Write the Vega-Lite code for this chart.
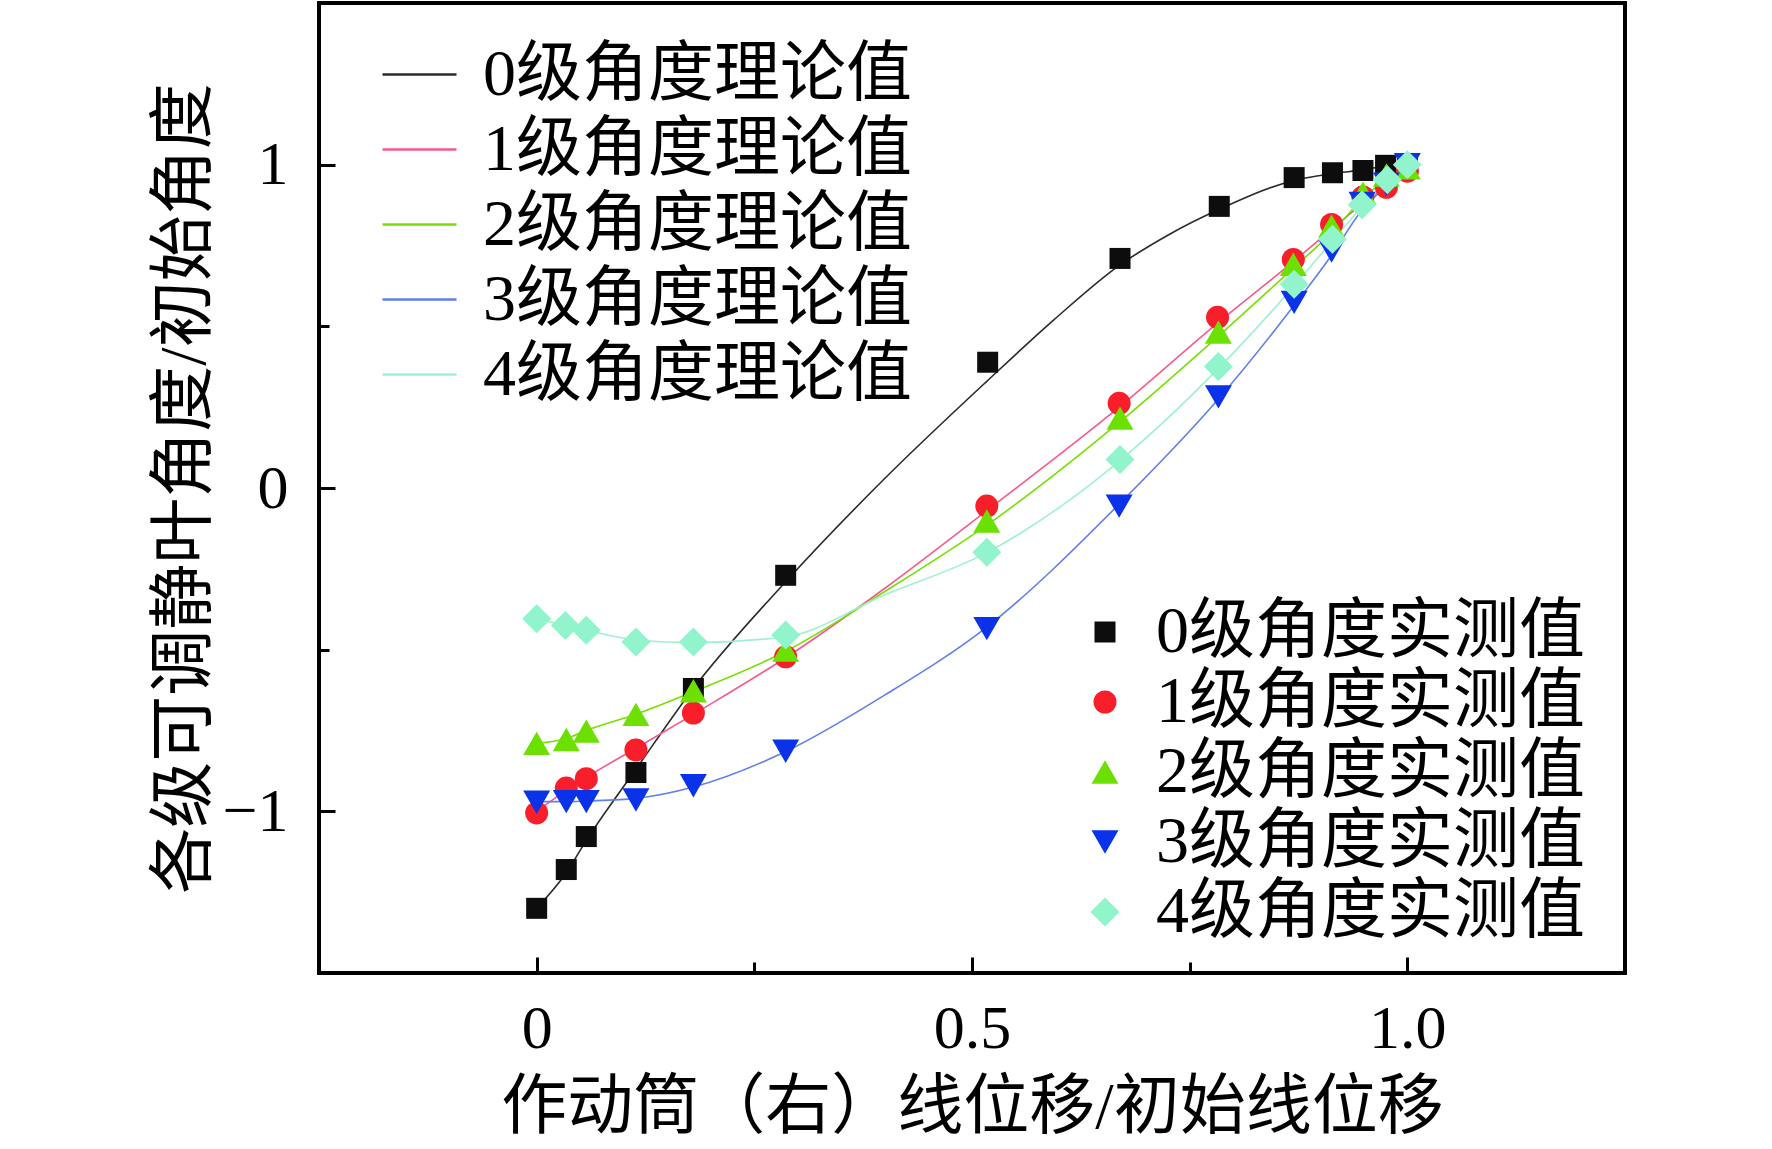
{
  "$schema": "https://vega.github.io/schema/vega-lite/v6.json",
  "width": 1306,
  "height": 970,
  "autosize": {"type": "none"},
  "padding": {"left": 319, "top": 3, "right": 147, "bottom": 176},
  "background": "white",
  "config": {
    "view": {"stroke": "black", "strokeWidth": 4},
    "axis": {"grid": false, "domain": false}
  },
  "datasets": {
    "theory": [
      {"s": "0级角度理论值", "x": 0, "y": -1.3},
      {"s": "0级角度理论值", "x": 0.034, "y": -1.19},
      {"s": "0级角度理论值", "x": 0.057, "y": -1.09},
      {"s": "0级角度理论值", "x": 0.114, "y": -0.87},
      {"s": "0级角度理论值", "x": 0.18, "y": -0.62},
      {"s": "0级角度理论值", "x": 0.286, "y": -0.29},
      {"s": "0级角度理论值", "x": 0.4, "y": 0.03},
      {"s": "0级角度理论值", "x": 0.517, "y": 0.33},
      {"s": "0级角度理论值", "x": 0.594, "y": 0.52},
      {"s": "0级角度理论值", "x": 0.67, "y": 0.69},
      {"s": "0级角度理论值", "x": 0.727, "y": 0.785},
      {"s": "0级角度理论值", "x": 0.784, "y": 0.862},
      {"s": "0级角度理论值", "x": 0.871, "y": 0.952},
      {"s": "0级角度理论值", "x": 0.914, "y": 0.972},
      {"s": "0级角度理论值", "x": 0.949, "y": 0.984},
      {"s": "0级角度理论值", "x": 0.975, "y": 0.995},
      {"s": "0级角度理论值", "x": 1.0, "y": 1.0},
      {"s": "1级角度理论值", "x": 0, "y": -1.0},
      {"s": "1级角度理论值", "x": 0.034, "y": -0.935},
      {"s": "1级角度理论值", "x": 0.057, "y": -0.895},
      {"s": "1级角度理论值", "x": 0.114, "y": -0.805},
      {"s": "1级角度理论值", "x": 0.18, "y": -0.7},
      {"s": "1级角度理论值", "x": 0.286, "y": -0.525},
      {"s": "1级角度理论值", "x": 0.4, "y": -0.31},
      {"s": "1级角度理论值", "x": 0.517, "y": -0.07},
      {"s": "1级角度理论值", "x": 0.669, "y": 0.25},
      {"s": "1级角度理论值", "x": 0.782, "y": 0.51},
      {"s": "1级角度理论值", "x": 0.869, "y": 0.7},
      {"s": "1级角度理论值", "x": 0.913, "y": 0.8},
      {"s": "1级角度理论值", "x": 0.949, "y": 0.88},
      {"s": "1级角度理论值", "x": 0.976, "y": 0.935},
      {"s": "1级角度理论值", "x": 1.0, "y": 0.985},
      {"s": "2级角度理论值", "x": 0, "y": -0.79},
      {"s": "2级角度理论值", "x": 0.034, "y": -0.775},
      {"s": "2级角度理论值", "x": 0.057, "y": -0.75},
      {"s": "2级角度理论值", "x": 0.114, "y": -0.7},
      {"s": "2级角度理论值", "x": 0.18, "y": -0.63},
      {"s": "2级角度理论值", "x": 0.286, "y": -0.505},
      {"s": "2级角度理论值", "x": 0.4, "y": -0.32},
      {"s": "2级角度理论值", "x": 0.517, "y": -0.115},
      {"s": "2级角度理论值", "x": 0.67, "y": 0.205},
      {"s": "2级角度理论值", "x": 0.783, "y": 0.47},
      {"s": "2级角度理论值", "x": 0.869, "y": 0.68},
      {"s": "2级角度理论值", "x": 0.913, "y": 0.79},
      {"s": "2级角度理论值", "x": 0.949, "y": 0.895},
      {"s": "2级角度理论值", "x": 0.976, "y": 0.955},
      {"s": "2级角度理论值", "x": 1.0, "y": 0.99},
      {"s": "3级角度理论值", "x": 0, "y": -0.97},
      {"s": "3级角度理论值", "x": 0.034, "y": -0.97},
      {"s": "3级角度理论值", "x": 0.057, "y": -0.968},
      {"s": "3级角度理论值", "x": 0.114, "y": -0.96},
      {"s": "3级角度理论值", "x": 0.18, "y": -0.925},
      {"s": "3级角度理论值", "x": 0.286, "y": -0.815},
      {"s": "3级角度理论值", "x": 0.4, "y": -0.64},
      {"s": "3级角度理论值", "x": 0.517, "y": -0.43},
      {"s": "3级角度理论值", "x": 0.669, "y": -0.05},
      {"s": "3级角度理论值", "x": 0.783, "y": 0.275},
      {"s": "3级角度理论值", "x": 0.87, "y": 0.565},
      {"s": "3级角度理论值", "x": 0.913, "y": 0.72},
      {"s": "3级角度理论值", "x": 0.948, "y": 0.86},
      {"s": "3级角度理论值", "x": 0.976, "y": 0.935},
      {"s": "3级角度理论值", "x": 1.0, "y": 1.0},
      {"s": "4级角度理论值", "x": 0, "y": -0.404},
      {"s": "4级角度理论值", "x": 0.033, "y": -0.425},
      {"s": "4级角度理论值", "x": 0.057, "y": -0.44},
      {"s": "4级角度理论值", "x": 0.114, "y": -0.47},
      {"s": "4级角度理论值", "x": 0.18, "y": -0.478},
      {"s": "4级角度理论值", "x": 0.286, "y": -0.46},
      {"s": "4级角度理论值", "x": 0.4, "y": -0.33},
      {"s": "4级角度理论值", "x": 0.517, "y": -0.2},
      {"s": "4级角度理论值", "x": 0.67, "y": 0.085},
      {"s": "4级角度理论值", "x": 0.783, "y": 0.37},
      {"s": "4级角度理论值", "x": 0.87, "y": 0.625},
      {"s": "4级角度理论值", "x": 0.914, "y": 0.765},
      {"s": "4级角度理论值", "x": 0.948, "y": 0.87},
      {"s": "4级角度理论值", "x": 0.977, "y": 0.95},
      {"s": "4级角度理论值", "x": 1.0, "y": 0.995}
    ],
    "measured": [
      {"m": "0级角度实测值", "x": 0, "y": -1.3},
      {"m": "0级角度实测值", "x": 0.034, "y": -1.18},
      {"m": "0级角度实测值", "x": 0.057, "y": -1.078},
      {"m": "0级角度实测值", "x": 0.114, "y": -0.88},
      {"m": "0级角度实测值", "x": 0.18, "y": -0.62},
      {"m": "0级角度实测值", "x": 0.286, "y": -0.27},
      {"m": "0级角度实测值", "x": 0.518, "y": 0.389},
      {"m": "0级角度实测值", "x": 0.67, "y": 0.71},
      {"m": "0级角度实测值", "x": 0.784, "y": 0.871},
      {"m": "0级角度实测值", "x": 0.87, "y": 0.96},
      {"m": "0级角度实测值", "x": 0.914, "y": 0.975},
      {"m": "0级角度实测值", "x": 0.949, "y": 0.982},
      {"m": "0级角度实测值", "x": 0.975, "y": 0.998},
      {"m": "0级角度实测值", "x": 1.0, "y": 1.0},
      {"m": "1级角度实测值", "x": 0, "y": -1.005},
      {"m": "1级角度实测值", "x": 0.034, "y": -0.928},
      {"m": "1级角度实测值", "x": 0.057, "y": -0.899},
      {"m": "1级角度实测值", "x": 0.114, "y": -0.81},
      {"m": "1级角度实测值", "x": 0.18, "y": -0.696},
      {"m": "1级角度实测值", "x": 0.286, "y": -0.522},
      {"m": "1级角度实测值", "x": 0.517, "y": -0.056},
      {"m": "1级角度实测值", "x": 0.669, "y": 0.262},
      {"m": "1级角度实测值", "x": 0.782, "y": 0.528},
      {"m": "1级角度实测值", "x": 0.869, "y": 0.707},
      {"m": "1级角度实测值", "x": 0.913, "y": 0.815},
      {"m": "1级角度实测值", "x": 0.949, "y": 0.9},
      {"m": "1级角度实测值", "x": 0.976, "y": 0.93},
      {"m": "1级角度实测值", "x": 1.0, "y": 0.98},
      {"m": "2级角度实测值", "x": 0, "y": -0.79},
      {"m": "2级角度实测值", "x": 0.034, "y": -0.778},
      {"m": "2级角度实测值", "x": 0.057, "y": -0.752},
      {"m": "2级角度实测值", "x": 0.114, "y": -0.7},
      {"m": "2级角度实测值", "x": 0.18, "y": -0.627},
      {"m": "2级角度实测值", "x": 0.286, "y": -0.501},
      {"m": "2级角度实测值", "x": 0.517, "y": -0.102},
      {"m": "2级角度实测值", "x": 0.67, "y": 0.216},
      {"m": "2级角度实测值", "x": 0.783, "y": 0.482},
      {"m": "2级角度实测值", "x": 0.869, "y": 0.692},
      {"m": "2级角度实测值", "x": 0.913, "y": 0.81},
      {"m": "2级角度实测值", "x": 0.949, "y": 0.912},
      {"m": "2级角度实测值", "x": 0.976, "y": 0.968},
      {"m": "2级角度实测值", "x": 1.0, "y": 0.99},
      {"m": "3级角度实测值", "x": 0, "y": -0.972},
      {"m": "3级角度实测值", "x": 0.034, "y": -0.97},
      {"m": "3级角度实测值", "x": 0.057, "y": -0.97},
      {"m": "3级角度实测值", "x": 0.114, "y": -0.965},
      {"m": "3级角度实测值", "x": 0.18, "y": -0.921},
      {"m": "3级角度实测值", "x": 0.286, "y": -0.814},
      {"m": "3级角度实测值", "x": 0.517, "y": -0.435},
      {"m": "3级角度实测值", "x": 0.669, "y": -0.056},
      {"m": "3级角度实测值", "x": 0.783, "y": 0.282},
      {"m": "3级角度实测值", "x": 0.87, "y": 0.574},
      {"m": "3级角度实测值", "x": 0.913, "y": 0.733},
      {"m": "3级角度实测值", "x": 0.948, "y": 0.88},
      {"m": "3级角度实测值", "x": 0.976, "y": 0.94},
      {"m": "3级角度实测值", "x": 1.0, "y": 1.0},
      {"m": "4级角度实测值", "x": 0, "y": -0.404},
      {"m": "4级角度实测值", "x": 0.033, "y": -0.425},
      {"m": "4级角度实测值", "x": 0.057, "y": -0.44},
      {"m": "4级角度实测值", "x": 0.114, "y": -0.476},
      {"m": "4级角度实测值", "x": 0.18, "y": -0.476},
      {"m": "4级角度实测值", "x": 0.286, "y": -0.455},
      {"m": "4级角度实测值", "x": 0.517, "y": -0.199},
      {"m": "4级角度实测值", "x": 0.67, "y": 0.088},
      {"m": "4级角度实测值", "x": 0.783, "y": 0.376},
      {"m": "4级角度实测值", "x": 0.87, "y": 0.63},
      {"m": "4级角度实测值", "x": 0.914, "y": 0.769},
      {"m": "4级角度实测值", "x": 0.948, "y": 0.876},
      {"m": "4级角度实测值", "x": 0.977, "y": 0.953},
      {"m": "4级角度实测值", "x": 1.0, "y": 1.0}
    ]
  },
  "encoding": {
    "x": {
      "field": "x",
      "type": "quantitative",
      "scale": {"domain": [-0.25, 1.25], "nice": false, "zero": false},
      "axis": {
        "values": [0, 0.25, 0.5, 0.75, 1],
        "labelExpr": "datum.value === 0 ? '0' : (datum.value === 0.5 ? '0.5' : (datum.value === 1 ? '1.0' : ''))",
        "tickSize": {"condition": {"test": "datum.value % 0.5 === 0", "value": -16}, "value": -11},
        "tickWidth": 3,
        "tickColor": "black",
        "labelFont": "Liberation Serif",
        "labelFontSize": 62,
        "labelColor": "black",
        "labelPadding": 41,
        "title": "作动筒（右）线位移/初始线位移",
        "titleFont": "Liberation Serif, Noto Sans CJK SC",
        "titleFontSize": 66,
        "titleFontWeight": "normal",
        "titleColor": "black",
        "titlePadding": 16
      }
    },
    "y": {
      "field": "y",
      "type": "quantitative",
      "scale": {"domain": [-1.5, 1.5], "nice": false, "zero": false},
      "axis": {
        "values": [-1, -0.5, 0, 0.5, 1],
        "labelExpr": "datum.value % 1 === 0 ? format(datum.value, 'd') : ''",
        "tickSize": {"condition": {"test": "datum.value % 1 === 0", "value": -16}, "value": -10},
        "tickWidth": 3,
        "tickColor": "black",
        "labelFont": "Liberation Serif",
        "labelFontSize": 62,
        "labelColor": "black",
        "labelPadding": 47,
        "title": "各级可调静叶角度/初始角度",
        "titleFont": "Liberation Serif, Noto Sans CJK SC",
        "titleFontSize": 66,
        "titleFontWeight": "normal",
        "titleColor": "black",
        "titlePadding": 4
      }
    }
  },
  "layer": [
    {
      "data": {"name": "theory"},
      "mark": {"type": "line", "strokeWidth": 1.6, "interpolate": "monotone"},
      "encoding": {
        "stroke": {
          "field": "s",
          "type": "nominal",
          "scale": {
            "domain": ["0级角度理论值", "1级角度理论值", "2级角度理论值", "3级角度理论值", "4级角度理论值"],
            "range": ["#2a2a2a", "#f7598f", "#77e000", "#6080e8", "#9cf2cf"]
          },
          "legend": {
            "orient": "none",
            "legendX": 62,
            "legendY": 33,
            "title": null,
            "symbolType": "stroke",
            "symbolSize": 5476,
            "symbolStrokeWidth": 2.5,
            "labelFont": "Liberation Serif, Noto Sans CJK SC",
            "labelFontSize": 66,
            "labelColor": "black",
            "labelOffset": 25,
            "labelLimit": 0,
            "rowPadding": 3
          }
        }
      }
    },
    {
      "data": {"name": "measured"},
      "mark": {"type": "point", "filled": true, "opacity": 1, "strokeWidth": 0},
      "encoding": {
        "fill": {
          "field": "m",
          "type": "nominal",
          "scale": {
            "domain": ["0级角度实测值", "1级角度实测值", "2级角度实测值", "3级角度实测值", "4级角度实测值"],
            "range": ["#0d0d0d", "#f81e2a", "#6ce000", "#0a32e8", "#92f4cc"]
          },
          "legend": {
            "orient": "none",
            "legendX": 753,
            "legendY": 596,
            "title": null,
            "labelFont": "Liberation Serif, Noto Sans CJK SC",
            "labelFontSize": 66,
            "labelColor": "black",
            "labelOffset": 18,
            "labelLimit": 0,
            "rowPadding": 4
          }
        },
        "shape": {
          "field": "m",
          "type": "nominal",
          "scale": {
            "domain": ["0级角度实测值", "1级角度实测值", "2级角度实测值", "3级角度实测值", "4级角度实测值"],
            "range": ["square", "circle", "triangle-up", "triangle-down", "diamond"]
          }
        },
        "size": {
          "field": "m",
          "type": "nominal",
          "scale": {
            "type": "ordinal",
            "domain": ["0级角度实测值", "1级角度实测值", "2级角度实测值", "3级角度实测值", "4级角度实测值"],
            "range": [441, 529, 729, 729, 841]
          }
        }
      }
    }
  ]
}
